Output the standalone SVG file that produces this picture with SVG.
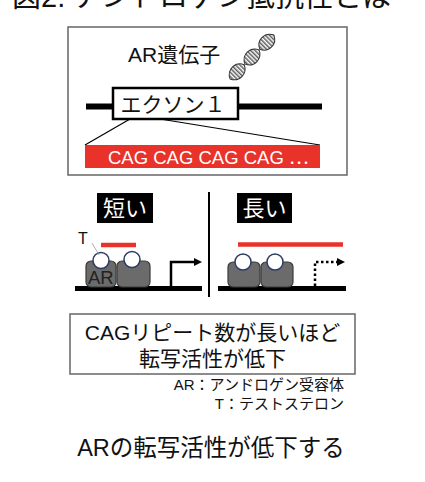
<svg xmlns="http://www.w3.org/2000/svg" width="425" height="482" viewBox="0 0 425 482">
  <style>
    text { font-family: "Liberation Sans", "Noto Sans CJK JP", sans-serif; fill: #111; }
    .frame { fill: #fff; stroke: #666; stroke-width: 1.5; }
    .ar { fill: #6b6b6b; stroke: #3a3a3a; stroke-width: 1.2; }
    .tball { fill: #fff; stroke: #2c3b66; stroke-width: 1.5; }
    .red { stroke: #e8322a; stroke-width: 4.5; }
    .tag { fill: #000; }
    .tagtext { fill: #fff; font-size: 22px; }
    .leaf { fill: url(#hatch); stroke: #333; stroke-width: 1; }
  </style>
  <defs>
    <pattern id="hatch" patternUnits="userSpaceOnUse" width="3" height="3">
      <rect width="3" height="3" fill="#fff"/>
      <line x1="0.8" y1="0" x2="0.8" y2="3" stroke="#444" stroke-width="1.3"/>
    </pattern>
    <marker id="head" markerWidth="8" markerHeight="8" refX="2" refY="4" orient="auto" markerUnits="userSpaceOnUse">
      <path d="M0,0 L8,4 L0,8 Z" fill="#000"/>
    </marker>
  </defs>

  <!-- title (clipped at the top edge) -->
  <text x="12" y="7" font-size="29">図2. アンドロゲン抵抗性とは</text>

  <!-- gene panel -->
  <g id="gene-panel">
    <rect class="frame" x="68" y="27" width="279" height="148"/>
    <text x="128" y="62" font-size="21">AR遺伝子</text>
    <g id="dna-icon" transform="translate(252,57) rotate(-45)">
      <path class="leaf" d="M-31,0 C-27,-9 -15,-9 -11,0 C-15,9 -27,9 -31,0 Z"/>
      <path class="leaf" d="M-10,0 C-6,-9 6,-9 10,0 C6,9 -6,9 -10,0 Z"/>
      <path class="leaf" d="M11,0 C15,-9 27,-9 31,0 C27,9 15,9 11,0 Z"/>
    </g>
    <line x1="86" y1="106.5" x2="322" y2="106.5" stroke="#000" stroke-width="6"/>
    <g id="exon1">
      <rect x="113" y="88" width="125" height="31" fill="#fff" stroke="#000" stroke-width="2.5"/>
      <text x="173" y="112" font-size="21" text-anchor="middle">エクソン１</text>
    </g>
    <line x1="130" y1="119" x2="85" y2="145" stroke="#000" stroke-width="1.2"/>
    <line x1="160" y1="119" x2="320" y2="145" stroke="#000" stroke-width="1.2"/>
    <g id="cag-repeat">
      <rect x="85" y="145" width="235" height="23" fill="#e8322a"/>
      <text x="108" y="163.5" font-size="18.5" style="fill:#fff">CAG CAG CAG CAG <tspan style="font-family:'Noto Sans CJK JP', sans-serif">…</tspan></text>
    </g>
  </g>

  <!-- short repeat -->
  <g id="short">
    <rect class="tag" x="97" y="193" width="56" height="30"/>
    <text class="tagtext" x="125" y="216" text-anchor="middle">短い</text>
    <line x1="75" y1="288.5" x2="202" y2="288.5" stroke="#000" stroke-width="5"/>
    <line class="red" x1="101" y1="245" x2="136" y2="245"/>
    <rect class="ar" x="86" y="261" width="30" height="26" rx="5"/>
    <rect class="ar" x="117" y="261" width="33" height="26" rx="5"/>
    <text x="88" y="284" font-size="18.5" style="fill:#222">AR</text>
    <circle class="tball" cx="101" cy="260.5" r="8"/>
    <circle class="tball" cx="132" cy="259.5" r="8"/>
    <text x="78" y="244" font-size="16">T</text>
    <line x1="92" y1="243" x2="99" y2="255" stroke="#999" stroke-width="0.8"/>
    <path d="M171,286 V262 H196" fill="none" stroke="#000" stroke-width="2.5" marker-end="url(#head)"/>
  </g>

  <line id="divider" x1="209" y1="192" x2="209" y2="297" stroke="#000" stroke-width="2"/>

  <!-- long repeat -->
  <g id="long">
    <rect class="tag" x="237" y="193" width="55" height="30"/>
    <text class="tagtext" x="264.5" y="216" text-anchor="middle">長い</text>
    <line x1="218" y1="288.5" x2="346" y2="288.5" stroke="#000" stroke-width="5"/>
    <line class="red" x1="238" y1="244.5" x2="343" y2="244.5"/>
    <rect class="ar" x="228" y="262" width="32" height="25" rx="5"/>
    <rect class="ar" x="261" y="262" width="32" height="25" rx="5"/>
    <circle class="tball" cx="243" cy="262" r="8"/>
    <circle class="tball" cx="275" cy="262" r="8"/>
    <path d="M315,286 V262 H339" fill="none" stroke="#000" stroke-width="2.5" stroke-dasharray="2.5,2.5" marker-end="url(#head)"/>
  </g>

  <!-- summary -->
  <g id="summary">
    <rect class="frame" x="70" y="314" width="285" height="60"/>
    <text x="212.5" y="340" font-size="21" text-anchor="middle">CAGリピート数が長いほど</text>
    <text x="212.5" y="366" font-size="21" text-anchor="middle">転写活性が低下</text>
  </g>

  <g id="legend">
    <text x="344" y="390" font-size="15" text-anchor="end">AR：アンドロゲン受容体</text>
    <text x="344" y="409" font-size="15" text-anchor="end">T：テストステロン</text>
  </g>

  <text x="211" y="456" font-size="23.5" text-anchor="middle">ARの転写活性が低下する</text>
</svg>
